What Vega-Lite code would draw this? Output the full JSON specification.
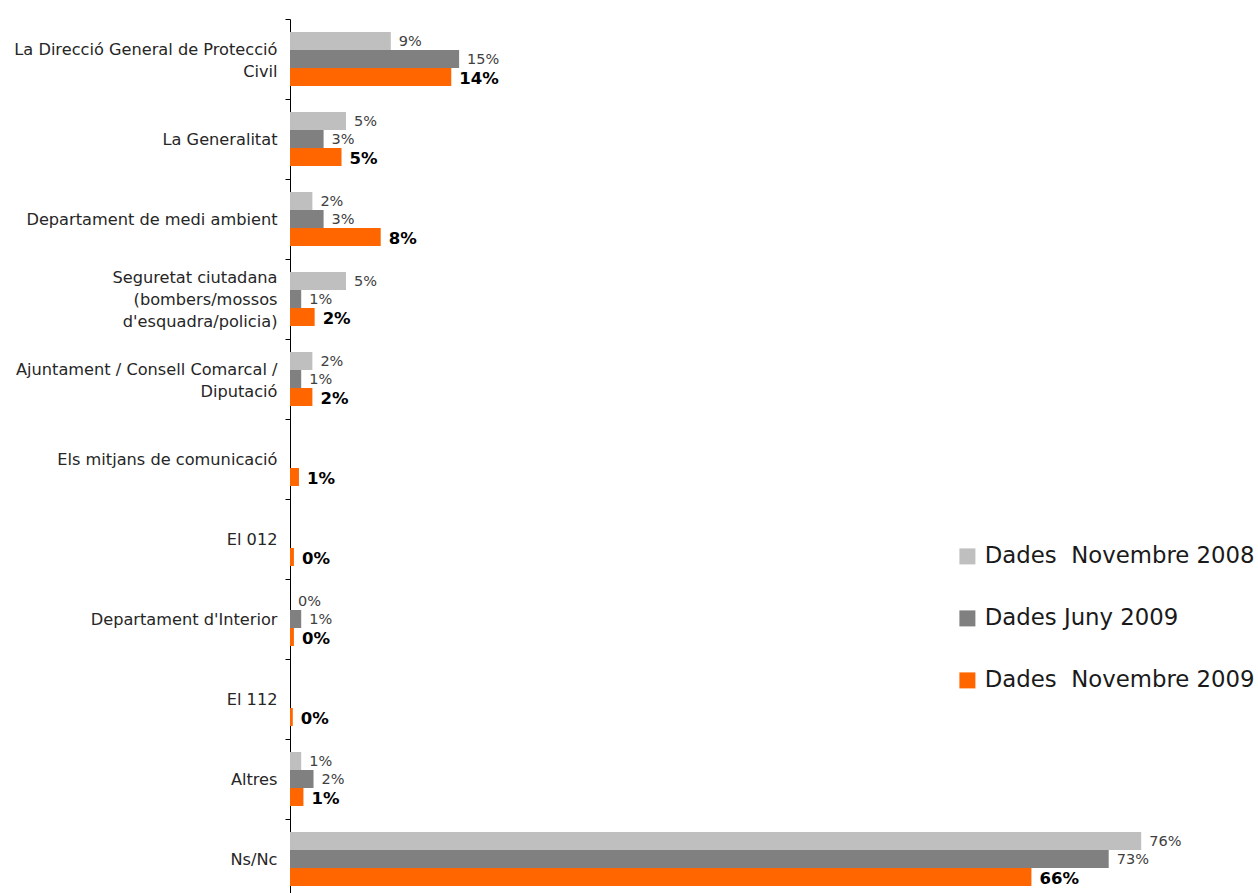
{
  "$schema": "https://vega.github.io/schema/vega-lite/v6.json",
  "width": 968,
  "height": 880,
  "autosize": {"type": "none"},
  "padding": {"left": 290, "top": 19, "right": 0, "bottom": 0},
  "background": "white",
  "config": {"view": {"stroke": null}, "font": "DejaVu Sans"},
  "data": {
    "values": [
      {"cat": "La Direcció General de Protecció Civil", "series": "Dades  Novembre 2008", "value": 0.09},
      {"cat": "La Direcció General de Protecció Civil", "series": "Dades Juny 2009", "value": 0.151},
      {"cat": "La Direcció General de Protecció Civil", "series": "Dades  Novembre 2009", "value": 0.144},
      {"cat": "La Generalitat", "series": "Dades  Novembre 2008", "value": 0.05},
      {"cat": "La Generalitat", "series": "Dades Juny 2009", "value": 0.03},
      {"cat": "La Generalitat", "series": "Dades  Novembre 2009", "value": 0.046},
      {"cat": "Departament de medi ambient", "series": "Dades  Novembre 2008", "value": 0.02},
      {"cat": "Departament de medi ambient", "series": "Dades Juny 2009", "value": 0.03},
      {"cat": "Departament de medi ambient", "series": "Dades  Novembre 2009", "value": 0.081},
      {"cat": "Seguretat ciutadana (bombers/mossos d'esquadra/policia)", "series": "Dades  Novembre 2008", "value": 0.05},
      {"cat": "Seguretat ciutadana (bombers/mossos d'esquadra/policia)", "series": "Dades Juny 2009", "value": 0.01},
      {"cat": "Seguretat ciutadana (bombers/mossos d'esquadra/policia)", "series": "Dades  Novembre 2009", "value": 0.022},
      {"cat": "Ajuntament / Consell Comarcal / Diputació", "series": "Dades  Novembre 2008", "value": 0.02},
      {"cat": "Ajuntament / Consell Comarcal / Diputació", "series": "Dades Juny 2009", "value": 0.01},
      {"cat": "Ajuntament / Consell Comarcal / Diputació", "series": "Dades  Novembre 2009", "value": 0.02},
      {"cat": "Els mitjans de comunicació", "series": "Dades  Novembre 2009", "value": 0.008},
      {"cat": "El 012", "series": "Dades  Novembre 2009", "value": 0.0035},
      {"cat": "Departament d'Interior", "series": "Dades  Novembre 2008", "value": 0},
      {"cat": "Departament d'Interior", "series": "Dades Juny 2009", "value": 0.01},
      {"cat": "Departament d'Interior", "series": "Dades  Novembre 2009", "value": 0.0035},
      {"cat": "El 112", "series": "Dades  Novembre 2009", "value": 0.0025},
      {"cat": "Altres", "series": "Dades  Novembre 2008", "value": 0.01},
      {"cat": "Altres", "series": "Dades Juny 2009", "value": 0.021},
      {"cat": "Altres", "series": "Dades  Novembre 2009", "value": 0.012},
      {"cat": "Ns/Nc", "series": "Dades  Novembre 2008", "value": 0.76},
      {"cat": "Ns/Nc", "series": "Dades Juny 2009", "value": 0.731},
      {"cat": "Ns/Nc", "series": "Dades  Novembre 2009", "value": 0.662}
    ]
  },
  "encoding": {
    "y": {
      "field": "cat",
      "type": "nominal",
      "sort": ["La Direcció General de Protecció Civil", "La Generalitat", "Departament de medi ambient", "Seguretat ciutadana (bombers/mossos d'esquadra/policia)", "Ajuntament / Consell Comarcal / Diputació", "Els mitjans de comunicació", "El 012", "Departament d'Interior", "El 112", "Altres", "Ns/Nc"],
      "scale": {"paddingInner": 0, "paddingOuter": 0},
      "axis": {
        "title": null,
        "domainColor": "#000000",
        "domainWidth": 1,
        "tickColor": "#000000",
        "tickSize": 5,
        "tickBand": "extent",
        "labelFontSize": 16.2,
        "labelColor": "#262626",
        "labelPadding": 8,
        "labelLineHeight": 22,
        "labelLimit": 0,
        "labelOffset": {"expr": "datum.value == 'La Direcció General de Protecció Civil' || datum.value == 'Ajuntament / Consell Comarcal / Diputació' ? -10 : substring(datum.value, 0, 9) == 'Seguretat' ? -22 : 0"},
        "labelExpr": "datum.label == 'La Direcció General de Protecció Civil' ? ['La Direcció General de Protecció', 'Civil'] : datum.label == 'Ajuntament / Consell Comarcal / Diputació' ? ['Ajuntament / Consell Comarcal /', 'Diputació'] : substring(datum.label, 0, 9) == 'Seguretat' ? ['Seguretat ciutadana', '(bombers/mossos', \"d'esquadra/policia)\"] : datum.label"
      }
    },
    "yOffset": {
      "field": "series",
      "type": "nominal",
      "sort": ["Dades  Novembre 2008", "Dades Juny 2009", "Dades  Novembre 2009"],
      "scale": {"paddingInner": 0, "paddingOuter": 0.72}
    },
    "x": {
      "field": "value",
      "type": "quantitative",
      "scale": {"domain": [0, 0.8643], "nice": false, "zero": true},
      "axis": null
    }
  },
  "layer": [
    {
      "mark": {"type": "bar"},
      "encoding": {
        "color": {
          "field": "series",
          "type": "nominal",
          "scale": {"domain": ["Dades  Novembre 2008", "Dades Juny 2009", "Dades  Novembre 2009"], "range": ["#BFBFBF", "#808080", "#FF6600"]},
          "legend": {
            "title": null,
            "orient": "none",
            "legendX": 666,
            "legendY": 526,
            "symbolType": "square",
            "symbolSize": 256,
            "symbolStrokeWidth": 0,
            "labelFontSize": 22.8,
            "labelColor": "#1a1a1a",
            "labelOffset": 6,
            "rowPadding": 38,
            "labelLimit": 0,
            "labelExpr": "replace(datum.label, '  ', '\u00a0 ')"
          }
        }
      }
    },
    {
      "transform": [{"filter": "datum.series != 'Dades  Novembre 2009'"}],
      "mark": {"type": "text", "align": "left", "baseline": "middle", "dx": 8, "dy": 1, "fontSize": 14.5, "color": "#404040"},
      "encoding": {"text": {"field": "value", "type": "quantitative", "format": ".0%"}}
    },
    {
      "transform": [{"filter": "datum.series == 'Dades  Novembre 2009'"}],
      "mark": {"type": "text", "align": "left", "baseline": "middle", "dx": 8, "dy": 2, "fontSize": 16.5, "fontWeight": "bold", "color": "#000000"},
      "encoding": {"text": {"field": "value", "type": "quantitative", "format": ".0%"}}
    }
  ]
}
